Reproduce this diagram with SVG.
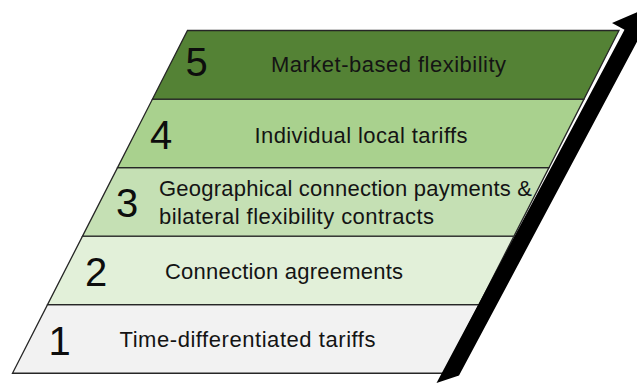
<svg xmlns="http://www.w3.org/2000/svg" width="637" height="387" viewBox="0 0 637 387">
  <style>
    .layer { stroke: #262626; stroke-width: 1.3; stroke-linejoin: miter; }
    .num { font-family: "Liberation Sans", Arial, sans-serif; font-size: 40px; fill: #0d0d0d; }
    .lbl { font-family: "Liberation Sans", Arial, sans-serif; font-size: 22px; fill: #141414; }
    .arrow { fill: #000000; stroke: none; }
  </style>
  <rect width="637" height="387" fill="#ffffff"/>

  <g id="layer1">
    <polygon class="layer" fill="#F2F2F2" points="47.5,304.7 479,304.7 444,373.25 12.5,373.25"/>
    <text class="num" x="48.5" y="355">1</text>
    <text class="lbl" x="119.5" y="347.3" textLength="256" lengthAdjust="spacing">Time-differentiated tariffs</text>
  </g>

  <g id="layer2">
    <polygon class="layer" fill="#E2F0D9" points="82.5,236.15 514,236.15 479,304.7 47.5,304.7"/>
    <text class="num" x="85" y="286">2</text>
    <text class="lbl" x="165" y="279.3" textLength="238" lengthAdjust="spacing">Connection agreements</text>
  </g>

  <g id="layer3">
    <polygon class="layer" fill="#C5E0B4" points="117.5,167.6 549,167.6 514,236.15 82.5,236.15"/>
    <text class="num" x="116" y="217.3">3</text>
    <text class="lbl" x="159" y="195.5" textLength="373" lengthAdjust="spacing">Geographical connection payments &amp;</text>
    <text class="lbl" x="159" y="224" textLength="275" lengthAdjust="spacing">bilateral flexibility contracts</text>
  </g>

  <g id="layer4">
    <polygon class="layer" fill="#A9D18E" points="152.5,99.05 584,99.05 549,167.6 117.5,167.6"/>
    <text class="num" x="150" y="149.3">4</text>
    <text class="lbl" x="254.5" y="143.3" textLength="213" lengthAdjust="spacing">Individual local tariffs</text>
  </g>

  <g id="layer5">
    <polygon class="layer" fill="#548235" points="187.5,30.5 619,30.5 584,99.05 152.5,99.05"/>
    <text class="num" x="185.5" y="76">5</text>
    <text class="lbl" x="271" y="71.7" textLength="235" lengthAdjust="spacing">Market-based flexibility</text>
  </g>

  <g id="connectors">
    <polygon class="arrow" points="436.5,383 459,375.5 639.3,37.55 651.9,44.2 645.1,8.9 612,23 624.5,29.65"/>
  </g>
</svg>
